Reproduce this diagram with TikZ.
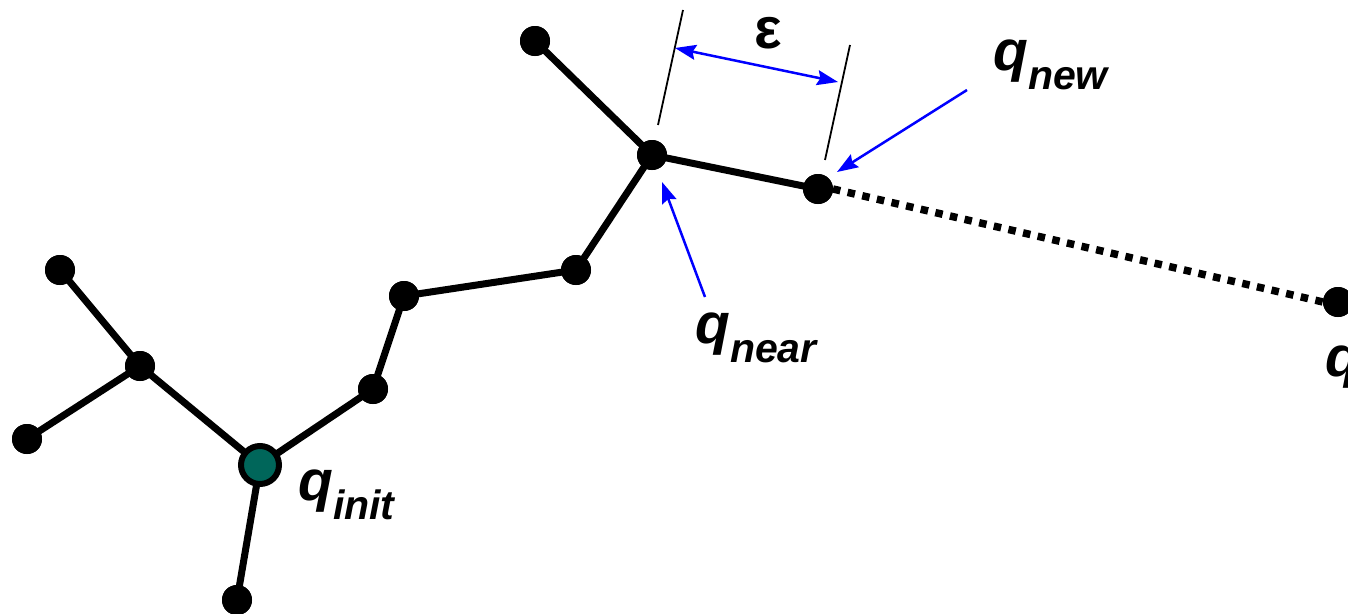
\documentclass[tikz,border=0pt]{standalone}
\usepackage{fontspec}
\setmainfont{Liberation Sans}
\usetikzlibrary{arrows.meta}
\definecolor{initteal}{RGB}{0,102,90}
\definecolor{arrowblue}{RGB}{0,0,255}
\tikzset{
  dot/.style={circle,fill=black,minimum size=30pt,inner sep=0pt,outer sep=0pt},
  initdot/.style={circle,fill=initteal,draw=black,line width=6pt,minimum size=38pt,inner sep=0pt,outer sep=0pt},
  edge/.style={line width=7pt},
  dotted edge/.style={line width=7.5pt,dash pattern=on 7.5pt off 7.5pt},
  tick/.style={line width=1.8pt},
  bluehead/.style={Stealth[length=21pt,width=15pt,inset=3pt]},
  blue arrow/.style={arrowblue,line width=2.5pt,-{Stealth[length=21pt,width=15pt,inset=3pt]}},
  qlabel/.style={anchor=base west,inner sep=0pt,font=\bfseries\itshape\fontsize{57}{60}\selectfont},
}
\newcommand{\qsub}[1]{\raisebox{-19pt}{\fontsize{41}{44}\selectfont #1}}
\begin{document}
\begin{tikzpicture}[x=1pt,y=-1pt]
\useasboundingbox (0,0) rectangle (1348,613);
% nodes
\node[dot] (a) at (535,41) {};
\node[dot] (near) at (652,155) {};
\node[dot] (new) at (818,189) {};
\node[dot] (rand) at (1338,302) {};
\node[dot] (e) at (576,270) {};
\node[dot] (f) at (404,296) {};
\node[dot] (g) at (373,389) {};
\node[dot] (h) at (140,366) {};
\node[dot] (i) at (60,270) {};
\node[dot] (j) at (27,439) {};
\node[dot] (k) at (237,600) {};
\coordinate (initc) at (260,465);
% edges
\draw[edge] (a.center) -- (near.center);
\draw[edge] (near.center) -- (new.center);
\draw[edge] (near.center) -- (e.center);
\draw[edge] (e.center) -- (f.center);
\draw[edge] (f.center) -- (g.center);
\draw[edge] (g.center) -- (initc);
\draw[edge] (initc) -- (h.center);
\draw[edge] (h.center) -- (i.center);
\draw[edge] (h.center) -- (j.center);
\draw[edge] (initc) -- (k.center);
\draw[dotted edge] (new.east) -- (rand.west);
% redraw dots on top
\foreach \n in {a,near,new,rand,e,f,g,h,i,j,k}{\fill (\n) circle (15pt);}
\node[initdot] (init) at (initc) {};
% epsilon dimension
\coordinate (t1a) at (683,10);
\coordinate (t1b) at (658,125);
\coordinate (t2a) at (850,45);
\coordinate (t2b) at (825,160);
\draw[tick] (t1a) -- (t1b);
\draw[tick] (t2a) -- (t2b);
\coordinate (ea) at (675,48);
\coordinate (eb) at (838,82);
\draw[arrowblue,line width=2.5pt,{Stealth[length=21pt,width=15pt,inset=3pt]}-{Stealth[length=21pt,width=15pt,inset=3pt]}] (ea) -- (eb);
\node[font=\bfseries\fontsize{58}{60}\selectfont,inner sep=0pt] (eps) at (768,33) {ε};
% labels
\node[qlabel] (lnew) at (993,70) {q\qsub{new}};
\node[qlabel] (lnear) at (695,343) {q\qsub{near}};
\node[qlabel] (linit) at (298,500) {q\qsub{init}};
\node[qlabel] (lrand) at (1325,376) {q};
% blue pointer arrows
\coordinate (pnew) at (967,90);
\coordinate (pnear) at (705,297);
\draw[blue arrow] (pnew) -- (837,172);
\draw[blue arrow] (pnear) -- (662,182);
\end{tikzpicture}
\end{document}
